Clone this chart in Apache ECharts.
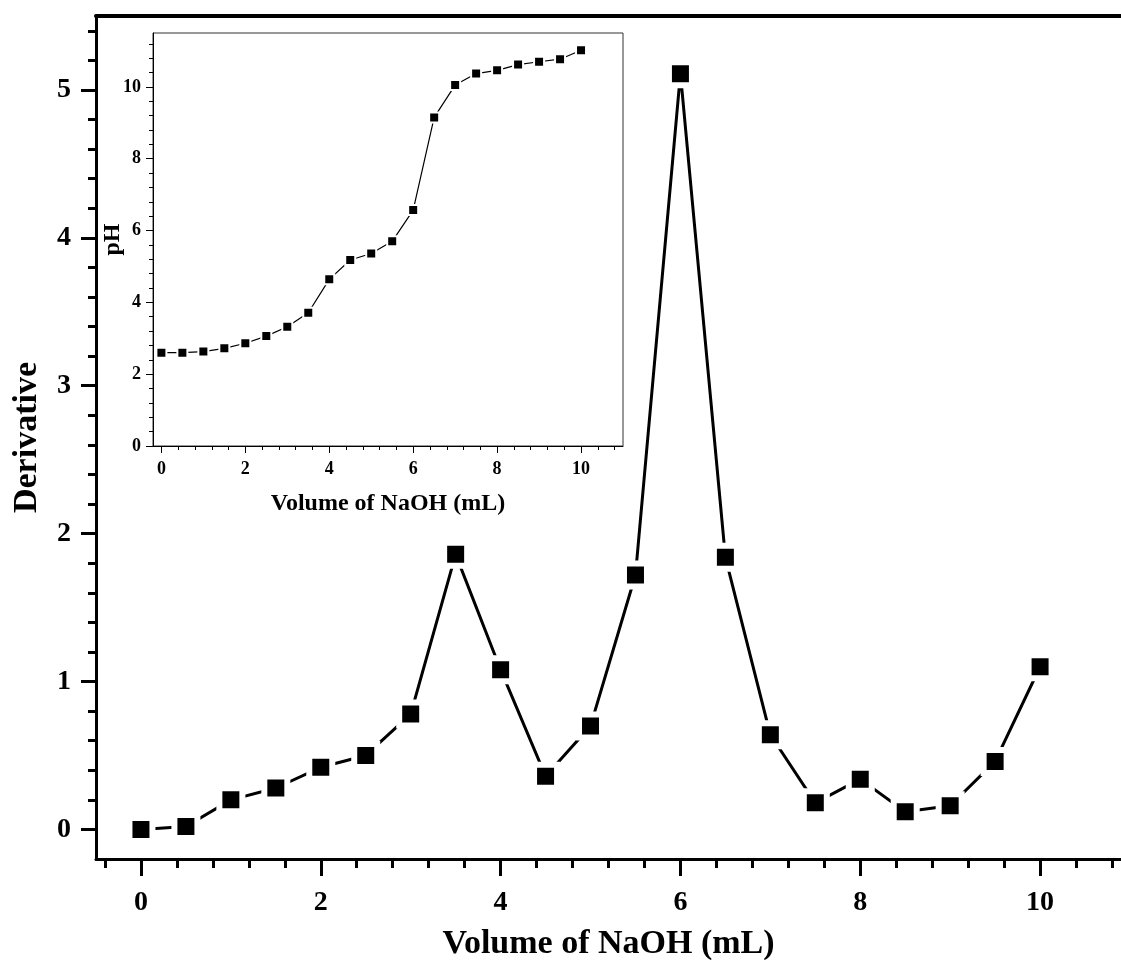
<!DOCTYPE html>
<html>
<head>
<meta charset="utf-8">
<script src="https://cdn.jsdelivr.net/npm/echarts@6/dist/echarts.min.js"></script>
<style>
  html, body { margin: 0; padding: 0; background: #fff; }
  #main-chart { width: 1121px; height: 960px; }
</style>
</head>
<body>
<div id="main-chart"></div>
<script>
// volume of NaOH added (mL)
var volume = [0, 0.5, 1, 1.5, 2, 2.5, 3, 3.5, 4, 4.5, 5, 5.5, 6, 6.5, 7, 7.5, 8, 8.5, 9, 9.5, 10];
// first derivative (main plot)
var derivative = [0, 0.02, 0.2, 0.28, 0.42, 0.5, 0.78, 1.86, 1.08, 0.36, 0.7, 1.72, 5.11, 1.84, 0.64, 0.18, 0.34, 0.12, 0.16, 0.46, 1.1];
// pH curve (inset)
var ph = [2.6, 2.6, 2.63, 2.72, 2.86, 3.06, 3.32, 3.71, 4.64, 5.18, 5.36, 5.7, 6.57, 9.15, 10.05, 10.37, 10.46, 10.62, 10.7, 10.77, 11.02];

var mainXTicks = [0, 2, 4, 6, 8, 10];
var mainYTicks = [0, 1, 2, 3, 4, 5];
var insetXTicks = [0, 2, 4, 6, 8, 10];
var insetYTicks = [0, 2, 4, 6, 8, 10];

// minor tick positions
function steps(from, to, step) {
    var out = [];
    for (var v = from; v <= to + 1e-9; v += step) {
        out.push(Math.round(v * 100) / 100);
    }
    return out;
}

var FONT = '"Liberation Serif", "Times New Roman", serif';

function pair(src) {
    return src.map(function (v, i) { return [volume[i], v]; });
}

function majorAxis(grid, pos, min, max, ticks, tickLen, tickW, lineW, fontSize, margin) {
    return {
        type: 'value', gridIndex: grid, position: pos, min: min, max: max,
        axisLine: { show: true, onZero: false, lineStyle: { color: '#000', width: lineW } },
        axisTick: { show: true, inside: false, length: tickLen, customValues: ticks, lineStyle: { color: '#000', width: tickW } },
        axisLabel: { show: true, customValues: ticks, margin: margin, color: '#000', fontFamily: FONT, fontWeight: 'bold', fontSize: fontSize },
        splitLine: { show: false }
    };
}

function minorAxis(grid, pos, min, max, ticks, tickLen, tickW) {
    return {
        type: 'value', gridIndex: grid, position: pos, min: min, max: max,
        axisLine: { show: false, onZero: false },
        axisTick: { show: true, inside: false, length: tickLen, customValues: ticks, lineStyle: { color: '#000', width: tickW } },
        axisLabel: { show: false },
        splitLine: { show: false }
    };
}

var myChart = echarts.init(document.getElementById('main-chart'));

var xMain = majorAxis(0, 'bottom', -0.5, 10.9, mainXTicks, 17, 3, 3, 28, 30);
xMain.name = 'Volume of NaOH (mL)';
xMain.nameLocation = 'middle';
xMain.nameGap = 68;
xMain.nameTextStyle = { color: '#000', fontFamily: FONT, fontWeight: 'bold', fontSize: 34 };

var yMain = majorAxis(0, 'left', -0.2, 5.5, mainYTicks, 15, 3, 3, 28, 25);
yMain.name = 'Derivative';
yMain.nameLocation = 'middle';
yMain.nameGap = 52;
yMain.nameTextStyle = { color: '#000', fontFamily: FONT, fontWeight: 'bold', fontSize: 34 };

var xInset = majorAxis(1, 'bottom', -0.2, 11, insetXTicks, 7, 1, 1, 18, 14);
xInset.name = 'Volume of NaOH (mL)';
xInset.nameLocation = 'middle';
xInset.nameGap = 46;
xInset.nameTextStyle = { color: '#000', fontFamily: FONT, fontWeight: 'bold', fontSize: 24 };

var yInset = majorAxis(1, 'left', 0, 11.5, insetYTicks, 7, 1, 1, 18, 12);
yInset.name = 'pH';
yInset.nameLocation = 'middle';
yInset.nameGap = 28;
yInset.nameMoveOverlap = false;
yInset.nameTextStyle = { color: '#000', fontFamily: FONT, fontWeight: 'bold', fontSize: 24 };

var option = {
    backgroundColor: '#fff',
    animation: false,
    grid: [
        { left: 96, top: 16, right: 0, bottom: 101, show: false, outerBoundsMode: 'none', containLabel: false },
        { left: 153, top: 33, width: 470, height: 413, show: true, borderColor: '#333', borderWidth: 1, backgroundColor: 'transparent', outerBoundsMode: 'none', containLabel: false }
    ],
    xAxis: [
        xMain,
        minorAxis(0, 'bottom', -0.5, 10.9, steps(-0.4, 10.8, 0.4), 9, 3),
        {
            type: 'value', gridIndex: 0, position: 'top', min: -0.5, max: 10.9,
            axisLine: { show: true, onZero: false, lineStyle: { color: '#000', width: 4 } },
            axisTick: { show: false }, axisLabel: { show: false }, splitLine: { show: false }
        },
        xInset,
        minorAxis(1, 'bottom', -0.2, 11, steps(0, 10.8, 0.4), 4, 1)
    ],
    yAxis: [
        yMain,
        minorAxis(0, 'left', -0.2, 5.5, steps(0, 5.4, 0.2), 8, 3),
        yInset,
        minorAxis(1, 'left', 0, 11.5, steps(0, 11.2, 0.4), 4, 1)
    ],
    series: [
        {
            name: 'Derivative',
            type: 'line',
            xAxisIndex: 0, yAxisIndex: 0,
            data: pair(derivative),
            // white rim leaves the small gap between line and marker
            symbol: 'rect', symbolSize: 23,
            itemStyle: { color: '#000', borderColor: '#fff', borderWidth: 6 },
            lineStyle: { color: '#000', width: 3 }
        },
        {
            name: 'pH',
            type: 'line',
            xAxisIndex: 3, yAxisIndex: 2,
            data: pair(ph),
            symbol: 'rect', symbolSize: 10,
            itemStyle: { color: '#000', borderColor: '#fff', borderWidth: 2 },
            lineStyle: { color: '#000', width: 1.2 }
        }
    ]
};

myChart.setOption(option);
</script>
</body>
</html>
